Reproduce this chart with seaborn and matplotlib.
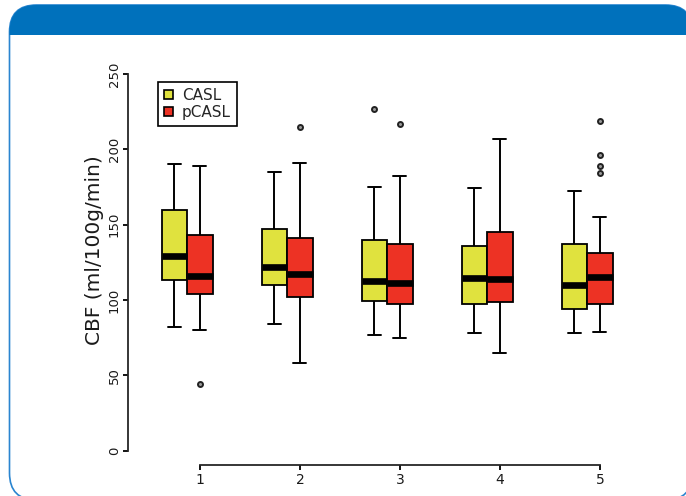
import numpy as np
import pandas as pd
import seaborn as sns
from matplotlib import pyplot as plt
from matplotlib.patches import FancyBboxPatch, Rectangle, Patch

# 00 - Values (CBF in ml/100g/min)
groups = ['1', '2', '3', '4', '5']
methods = ['CASL', 'pCASL']

casl_low = [82, 84, 77, 78, 78]
casl_q1 = [113.5, 110, 99, 97, 94]
casl_med = [129, 122, 112.5, 114.5, 110]
casl_q3 = [160, 147, 140, 136, 137]
casl_high = [190, 185, 175, 174, 172]
casl_out = [[], [], [227], [], []]

pcasl_low = [80, 58, 75, 65, 78.5]
pcasl_q1 = [104, 102, 97.5, 98.5, 97]
pcasl_med = [116, 117, 111, 114, 115]
pcasl_q3 = [143, 141, 137, 145, 131]
pcasl_high = [189, 191, 182, 207, 155]
pcasl_out = [[44], [215], [217], [], [218.5, 196, 189, 184]]

colors = {'CASL': '#E0E23E', 'pCASL': '#ED3224'}


# 01 - Build a sample per box whose quartiles/whiskers equal the read summary
def summary_sample(lo, q1, med, q3, hi, outliers):
    below = [v for v in outliers if v < q1] + [lo]
    above = [hi] + [v for v in outliers if v > q3]
    k = max(len(below), len(above))
    below = below + [lo] * (k - len(below))
    above = above + [hi] * (k - len(above))
    return below + [q1] * (k + 1) + [med] + [q3] * (k + 1) + above


rows = []
summaries = {
    'CASL': (casl_low, casl_q1, casl_med, casl_q3, casl_high, casl_out),
    'pCASL': (pcasl_low, pcasl_q1, pcasl_med, pcasl_q3, pcasl_high, pcasl_out),
}
for method, stats in summaries.items():
    for i, g in enumerate(groups):
        for v in summary_sample(*(s[i] for s in stats)):
            rows.append({'group': g, 'method': method, 'CBF': v})
df = pd.DataFrame(rows)

# 02 - Figure
sns.set_style('ticks')
plt.rcParams['font.family'] = ['DejaVu Sans']

W, H = 686, 496
fig = plt.figure(figsize=(W / 100, H / 100), dpi=100)

# frame with blue header band (right and bottom edges run off the picture)
bg = fig.add_axes([0, 0, 1, 1], zorder=-1)
bg.set_xlim(0, W)
bg.set_ylim(H, 0)
bg.axis('off')
frame = FancyBboxPatch((9.5, 5), 683, 495, boxstyle='round,pad=0,rounding_size=27',
                       facecolor='white', edgecolor='#2A85D0', linewidth=1.2)
bg.add_patch(frame)
band = Rectangle((0, 0), W, 35, facecolor='#0071BC', edgecolor='none')
bg.add_patch(band)
band.set_clip_path(frame)

# main plot area (pixel layout of the reference)
left_px, right_px, top_px, bottom_px = 128, 650, 60, 465
ax = fig.add_axes([left_px / W, 1 - bottom_px / H,
                   (right_px - left_px) / W, (bottom_px - top_px) / H])
ax.patch.set_alpha(0)

sns.boxplot(data=df, x='group', y='CBF', hue='method', hue_order=methods,
            order=groups, palette=colors, width=0.51, gap=0, linewidth=1.3,
            linecolor='black', fliersize=3.6, saturation=1, ax=ax,
            medianprops=dict(linewidth=4.8, color='black', solid_capstyle='butt'),
            whiskerprops=dict(linewidth=1.4),
            capprops=dict(linewidth=1.4),
            flierprops=dict(marker='o', markerfacecolor='#9a9a9a',
                            markeredgecolor='#222222', markeredgewidth=1.4))

# pixel->data: group centres at 187 + 100*i, y: 0 at 450.5, 1.506 px per unit
ax.set_xlim((left_px - 187) / 100, (right_px - 187) / 100)
ax.set_ylim((450.5 - bottom_px) / 1.506, (450.5 - top_px) / 1.506)

xt = np.arange(len(groups)) + 0.13
ax.set_xticks(xt)
ax.set_xticklabels(groups)
ax.set_yticks([0, 50, 100, 150, 200, 250])
ax.spines['top'].set_visible(False)
ax.spines['right'].set_visible(False)
ax.spines['left'].set_bounds(0, 250)
ax.spines['bottom'].set_bounds(xt[0], xt[-1])
for s in ['left', 'bottom']:
    ax.spines[s].set_linewidth(1.3)
ax.tick_params(axis='both', direction='out', length=3.5, width=1.3, color='black')
ax.tick_params(axis='y', labelrotation=90, labelsize=9.5, pad=1.5, labelcolor='#1a1a1a')
ax.tick_params(axis='x', labelsize=10, pad=2, labelcolor='#1a1a1a')
for lab in ax.get_yticklabels():
    lab.set_va('center')

ax.set_xlabel('')
ax.set_ylabel('CBF (ml/100g/min)', fontsize=14.5, color='#1a1a1a')
ax.yaxis.set_label_coords((104 - left_px) / (right_px - left_px),
                          (bottom_px - 250) / (bottom_px - top_px))

# legend
ax.get_legend().remove()
handles = [Patch(facecolor=colors[m], edgecolor='black', linewidth=1.2, label=m) for m in methods]
leg = ax.legend(handles=handles, loc='upper left', borderaxespad=0,
                bbox_to_anchor=(158 / W, 1 - 82 / H), bbox_transform=fig.transFigure,
                fontsize=11, handlelength=0.55, handleheight=0.55, handletextpad=0.6,
                labelspacing=0.1, borderpad=0.4, fancybox=False, framealpha=1,
                edgecolor='black')
leg.get_frame().set_linewidth(1.2)

fig.savefig('out.png', dpi=100)
